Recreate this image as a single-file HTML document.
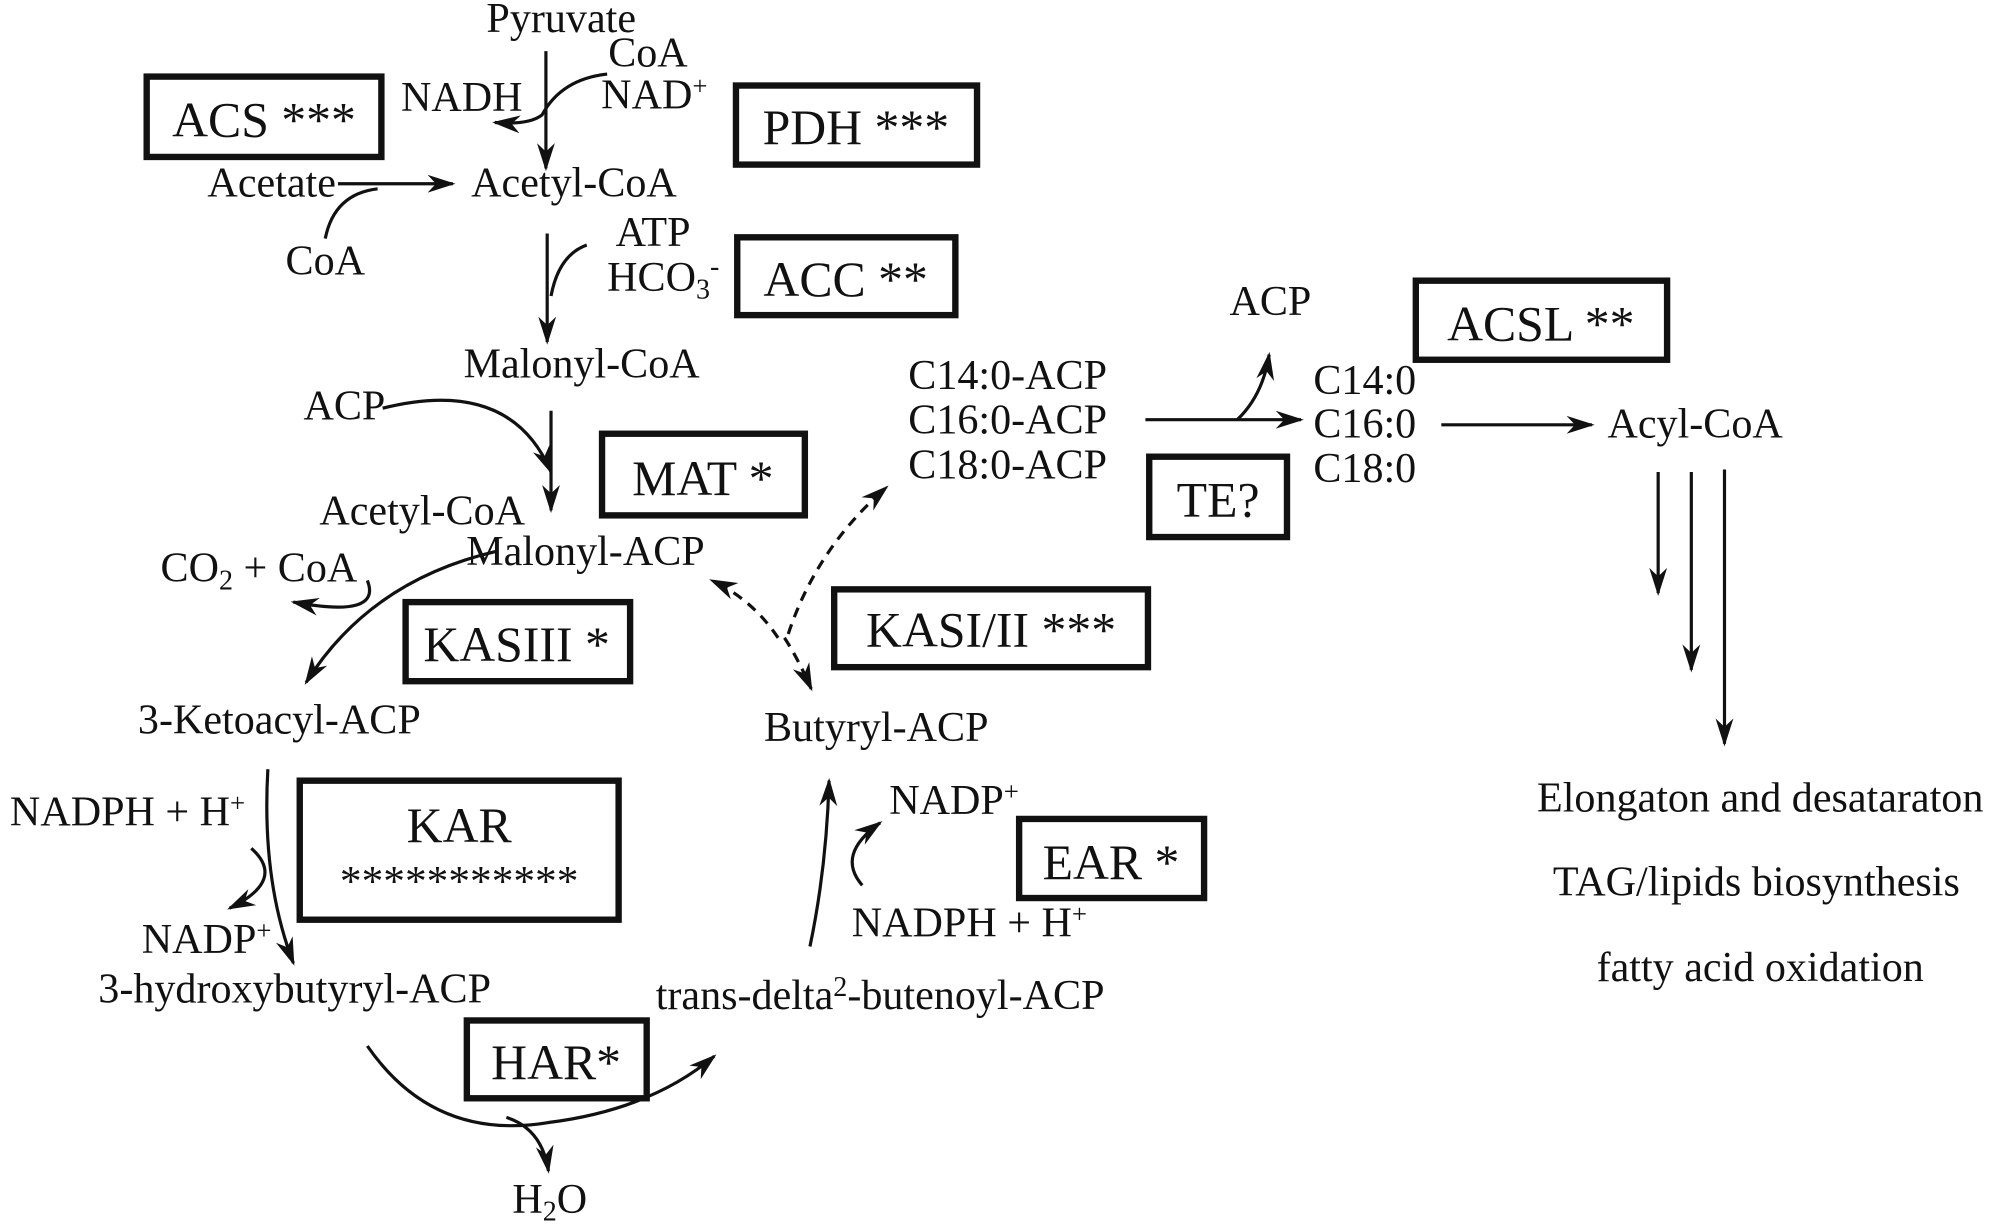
<!DOCTYPE html>
<html><head><meta charset="utf-8"><style>html,body{margin:0;padding:0;background:#fff}svg{display:block}text{font-family:"Liberation Serif",serif}</style></head><body>
<svg width="2000" height="1231" viewBox="0 0 1568 965" xmlns="http://www.w3.org/2000/svg" style="font-family:'Liberation Serif',serif" fill="#111">
<defs>
<marker id="b" viewBox="0 0 10 10" refX="9" refY="5" markerWidth="22" markerHeight="14" orient="auto" markerUnits="userSpaceOnUse" preserveAspectRatio="none"><path d="M0,0 L10,5 L0,10 L3,5 z"/></marker></defs>
<g fill="none" stroke="#111" stroke-width="5">
<rect x="115" y="60" width="184" height="63"/>
<rect x="577" y="67" width="189" height="62"/>
<rect x="578" y="186" width="171" height="61"/>
<rect x="1110" y="220" width="197" height="62"/>
<rect x="472" y="340" width="159" height="64"/>
<rect x="901" y="358" width="108" height="63"/>
<rect x="318" y="472" width="176" height="62"/>
<rect x="654" y="462" width="246" height="61"/>
<rect x="235" y="612" width="250" height="109"/>
<rect x="799" y="642" width="145" height="62"/>
<rect x="366" y="800" width="141" height="61"/>
</g>
<g font-size="39" text-anchor="middle">
<text x="207" y="107">ACS ***</text><text x="671" y="113">PDH ***</text><text x="663" y="232">ACC **</text>
<text x="1208" y="267">ACSL **</text><text x="551" y="388">MAT *</text><text x="955" y="405">TE?</text>
<text x="405" y="518">KASIII *</text><text x="777" y="507">KASI/II ***</text><text x="360" y="660">KAR</text>
<text x="360" y="702" font-size="34">***********</text><text x="871" y="689">EAR *</text><text x="436" y="846">HAR*</text>
</g>
<g font-size="33" text-anchor="middle">
<text x="440" y="25">Pyruvate</text><text x="508" y="52">CoA</text><text x="513" y="85">NAD<tspan font-size="21" dy="-11">+</tspan></text>
<text x="362" y="87">NADH</text><text x="213" y="154">Acetate</text><text x="450" y="154">Acetyl-CoA</text>
<text x="255" y="215">CoA</text><text x="512" y="193">ATP</text><text x="520" y="228">HCO<tspan font-size="22" dy="6">3</tspan><tspan font-size="22" dy="-18">-</tspan></text>
<text x="456" y="296">Malonyl-CoA</text><text x="270" y="329">ACP</text><text x="331" y="411">Acetyl-CoA</text>
<text x="459" y="443">Malonyl-ACP</text><text x="203" y="456">CO<tspan font-size="22" dy="6">2</tspan><tspan dy="-6"> + CoA</tspan></text>
<text x="219" y="575">3-Ketoacyl-ACP</text><text x="687" y="581">Butyryl-ACP</text>
<text x="100" y="647">NADPH + H<tspan font-size="21" dy="-11">+</tspan></text><text x="162" y="747">NADP<tspan font-size="21" dy="-11">+</tspan></text>
<text x="231" y="786">3-hydroxybutyryl-ACP</text><text x="748" y="638">NADP<tspan font-size="21" dy="-11">+</tspan></text>
<text x="760" y="734">NADPH + H<tspan font-size="21" dy="-11">+</tspan></text>
<text x="690" y="791">trans-delta<tspan font-size="22" dy="-10">2</tspan><tspan dy="10">-butenoyl-ACP</tspan></text>
<text x="431" y="951">H<tspan font-size="22" dy="6">2</tspan><tspan dy="-6">O</tspan></text>
<text x="996" y="247">ACP</text><text x="790" y="305">C14:0-ACP</text><text x="790" y="340">C16:0-ACP</text><text x="790" y="375">C18:0-ACP</text>
<text x="1070" y="309">C14:0</text><text x="1070" y="343">C16:0</text><text x="1070" y="378">C18:0</text>
<text x="1329" y="343">Acyl-CoA</text>
<text x="1380" y="636">Elongaton and desataraton</text><text x="1377" y="702">TAG/lipids biosynthesis</text><text x="1380" y="769">fatty acid oxidation</text>
</g>
<g fill="none" stroke="#111" stroke-width="2.5" marker-end="url(#b)">
<path d="M428,40 L428,132"/>
<path d="M476,58 Q440,62 425,90 Q415,98 388,96"/>
<path d="M265,144 L355,144"/>
<path d="M255,187 Q262,152 296,148" marker-end="none"/>
<path d="M429,183 L429,268"/>
<path d="M460,192 Q438,200 432,232" marker-end="none"/>
<path d="M432,322 L432,400"/>
<path d="M300,320 Q400,295 432,370"/>
<path d="M390,432 Q290,455 240,535"/>
<path d="M288,455 Q300,485 230,472"/>
<path d="M210,603 Q205,690 230,755"/>
<path d="M197,665 Q225,690 180,712"/>
<path d="M288,820 Q340,895 430,880 Q510,870 560,828"/>
<path d="M397,876 Q425,885 430,918"/>
<path d="M635,742 Q648,680 650,612"/>
<path d="M676,694 Q655,670 690,645"/>
<path d="M898,329 L1020,329"/>
<path d="M970,329 Q990,310 995,278"/>
<path d="M1130,333 L1248,333"/>
<path d="M1300,370 L1300,465"/>
<path d="M1326,370 L1326,525"/>
<path d="M1352,368 L1352,583"/>
</g>
<g fill="none" stroke="#111" stroke-width="2.5" stroke-dasharray="8,6" marker-end="url(#b)">
<path d="M618,497 Q640,430 695,382"/>
<path d="M610,500 Q590,470 558,455"/>
<path d="M615,500 Q625,515 636,540"/>
</g>
</svg>
</body></html>
